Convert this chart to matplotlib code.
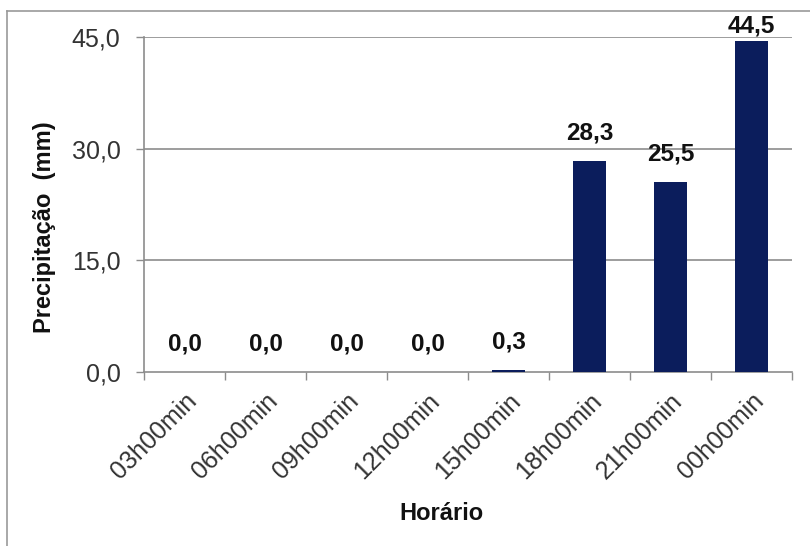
import matplotlib
matplotlib.use("Agg")
import matplotlib.pyplot as plt
from matplotlib.lines import Line2D
import numpy as np

plt.rcParams['font.family'] = ['Liberation Sans', 'DejaVu Sans']

# data
horarios = ['03h00min', '06h00min', '09h00min', '12h00min',
            '15h00min', '18h00min', '21h00min', '00h00min']
precip = [0.0, 0.0, 0.0, 0.0, 0.3, 28.3, 25.5, 44.5]
yticks = [0, 15, 30, 45]

bar_color = '#0b1d5c'
grid_color = '#8c8c8c'

fig = plt.figure(figsize=(8.1, 5.46), dpi=100)
ax = fig.add_axes([144/810, 1 - 372/546, (792 - 144)/810, (372 - 37)/546])

x = np.arange(len(horarios))
ax.bar(x, precip, width=0.41, color=bar_color, zorder=3)

ax.set_xlim(-0.5, len(horarios) - 0.5)
ax.set_ylim(0, 45)

# y axis
ax.set_yticks(yticks)
ax.set_yticklabels([f'{v:.1f}'.replace('.', ',') for v in yticks])
ax.tick_params(axis='y', direction='out', length=6, width=1, color=grid_color,
               pad=11, labelsize=18, labelcolor='#333333')
for v in yticks[1:]:
    ax.axhline(v, color=grid_color, lw=1.2, zorder=1)

# x axis: ticks between categories, labels at centres
ax.set_xticks(np.arange(-0.5, len(horarios)))
ax.set_xticklabels([])
ax.set_xticks(x, minor=True)
ax.set_xticklabels(horarios, minor=True, rotation=45, ha='right',
                   rotation_mode='anchor', fontsize=18, color='#333333')
ax.tick_params(axis='x', which='major', direction='out', length=6, width=1, color=grid_color)
ax.tick_params(axis='x', which='minor', length=0, pad=12)

for s in ['top', 'right']:
    ax.spines[s].set_visible(False)
for s in ['left', 'bottom']:
    ax.spines[s].set_color(grid_color)
    ax.spines[s].set_linewidth(1.2)

# value labels above bars
for xi, v in zip(x, precip):
    ax.text(xi, min(v + 2.2, 44.9), f'{v:.1f}'.replace('.', ','),
            ha='center', va='bottom', fontsize=17.5, fontweight='bold', color='#111111')

fig.text(45/810, 1 - 227/546, 'Precipitação  (mm)', rotation=90, ha='center', va='center',
         fontsize=17, fontweight='bold', color='#111111')
fig.text(441/810, 1 - 513/546, 'Horário', ha='center', va='center',
         fontsize=17, fontweight='bold', color='#111111')

# outer frame (only left and top visible in the crop)
fig.add_artist(Line2D([7/810, 7/810], [0, 1 - 11/546], transform=fig.transFigure,
                      color='#999999', lw=1.2))
fig.add_artist(Line2D([7/810, 1], [1 - 11/546, 1 - 11/546], transform=fig.transFigure,
                      color='#999999', lw=1.2))

fig.savefig('out.png', dpi=100)
